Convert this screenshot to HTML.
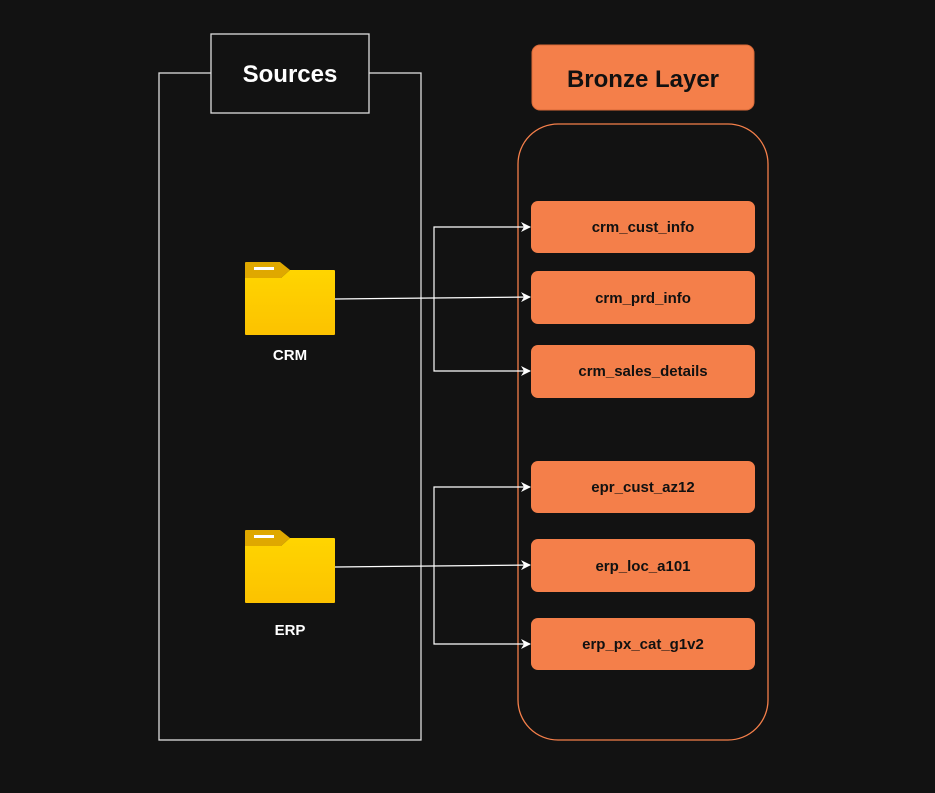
<!DOCTYPE html>
<html><head><style>
html,body{margin:0;padding:0;background:#121212;width:935px;height:793px;overflow:hidden}
svg text{font-family:"Liberation Sans",sans-serif;font-weight:bold}
</style></head><body>
<svg width="935" height="793" viewBox="0 0 935 793" xmlns="http://www.w3.org/2000/svg">
<defs>
<marker id="a" markerWidth="10" markerHeight="10" refX="9" refY="5" orient="auto" markerUnits="userSpaceOnUse">
<path d="M0,0 L10,5 L0,10 L3,5 Z" fill="#fff"/></marker>
<linearGradient id="g" x1="0" y1="0" x2="0" y2="1"><stop offset="0" stop-color="#ffd500"/><stop offset="1" stop-color="#fcc200"/></linearGradient>
</defs>
<rect x="159" y="73" width="262" height="667" fill="none" stroke="#ddd" stroke-width="1.3"/>
<rect x="211" y="34" width="158" height="79" fill="#121212" stroke="#ddd" stroke-width="1.3"/>
<text x="290" y="82" font-size="24" fill="#fff" text-anchor="middle">Sources</text>
<rect x="532" y="45" width="222" height="65" rx="8" fill="#f47f4a" stroke="#d96a38"/>
<text x="643" y="87" font-size="24" fill="#111" text-anchor="middle">Bronze Layer</text>
<rect x="518" y="124" width="250" height="616" rx="40" fill="none" stroke="#f47f4a" stroke-width="1.3"/>
<g fill="#f47f4a">
<rect x="531" y="201" width="224" height="52" rx="7"/>
<rect x="531" y="271" width="224" height="53" rx="7"/>
<rect x="531" y="345" width="224" height="53" rx="7"/>
<rect x="531" y="461" width="224" height="52" rx="7"/>
<rect x="531" y="539" width="224" height="53" rx="7"/>
<rect x="531" y="618" width="224" height="52" rx="7"/>
</g>
<g font-size="15" fill="#111" text-anchor="middle">
<text x="643" y="232">crm_cust_info</text>
<text x="643" y="303">crm_prd_info</text>
<text x="643" y="376">crm_sales_details</text>
<text x="643" y="492">epr_cust_az12</text>
<text x="643" y="571">erp_loc_a101</text>
<text x="643" y="649">erp_px_cat_g1v2</text>
</g>
<g stroke="#fff" stroke-width="1.2" fill="none">
<path d="M335,299 L530,297" marker-end="url(#a)"/>
<path d="M434,299 L434,227 L530,227" marker-end="url(#a)"/>
<path d="M434,299 L434,371 L530,371" marker-end="url(#a)"/>
<path d="M335,567 L530,565" marker-end="url(#a)"/>
<path d="M434,567 L434,487 L530,487" marker-end="url(#a)"/>
<path d="M434,567 L434,644 L530,644" marker-end="url(#a)"/>
</g>
<g id="f">
<path d="M245,263 Q245,262 246,262 L280,262 L290,270 L281,278 L245,278 Z" fill="#dfa800"/>
<path d="M245,278 L281,278 L290,270 L334,270 Q335,270 335,271 L335,334 Q335,335 334,335 L246,335 Q245,335 245,334 Z" fill="url(#g)"/>
<rect x="254" y="267" width="20" height="3" fill="#fff"/>
</g>
<use href="#f" y="268"/>
<text x="290" y="360" font-size="15" fill="#fff" text-anchor="middle">CRM</text>
<text x="290" y="635" font-size="15" fill="#fff" text-anchor="middle">ERP</text>
</svg>
</body></html>
